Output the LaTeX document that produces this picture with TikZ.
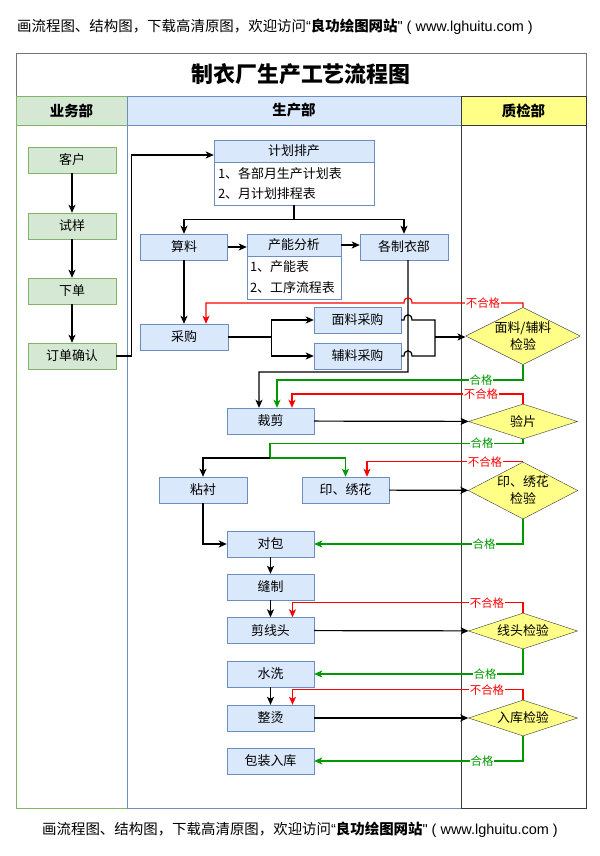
\documentclass[tikz,border=0pt]{standalone}
\usepackage{fontspec}
\setmainfont{Noto Sans CJK SC}
\newfontfamily\latinfont{Liberation Sans}
\usetikzlibrary{shapes.geometric,arrows.meta}

\definecolor{ywfill}{HTML}{D5E8D4}
\definecolor{ywline}{HTML}{82B366}
\definecolor{scfill}{HTML}{DAE8FC}
\definecolor{scline}{HTML}{6C8EBF}
\definecolor{zjfill}{HTML}{FFFF88}
\definecolor{zjline}{HTML}{36393D}
\definecolor{okgreen}{HTML}{009900}
\definecolor{ngred}{HTML}{FF0000}

\tikzset{
	ywbox/.style={draw=ywline, fill=ywfill, minimum width=88bp, minimum height=26bp, inner sep=0pt, font=\fontsize{13}{15}\selectfont},
	scbox/.style={draw=scline, fill=scfill, minimum width=87bp, minimum height=26bp, inner sep=0pt, font=\fontsize{13}{15}\selectfont},
	tbbody/.style={draw=scline, fill=white, inner xsep=4bp, inner ysep=0pt, minimum height=43bp, align=left, font=\fontsize{13}{21}\selectfont},
	zjdia/.style={diamond, draw=zjline, fill=zjfill, inner sep=0pt, aspect=3, minimum width=109bp, minimum height=36bp, align=center, font=\fontsize{13}{17}\selectfont},
	lanehead/.style={minimum height=29bp, inner sep=0pt, font=\bfseries\fontsize{14.5}{16}\selectfont},
	ar/.style={line width=1.2bp, -{Stealth[length=8bp,width=7bp,inset=2bp]}},
	okar/.style={ar, draw=okgreen},
	ngar/.style={ar, draw=ngred},
	oklab/.style={fill=white, inner sep=1bp, text=okgreen, font=\fontsize{11.5}{13}\selectfont},
	nglab/.style={fill=white, inner sep=1bp, text=ngred, font=\fontsize{11.5}{13}\selectfont},
}

\begin{document}
\begin{tikzpicture}[x=1bp, y=-1bp]
	\useasboundingbox (0,0) rectangle (600,856);

	\node[font=\fontsize{14.5}{17}\selectfont] (tophint) at (275,27) {画流程图、结构图，下载高清原图，欢迎访问{\latinfont “}\textbf{良功绘图网站}{\latinfont " ( www.lghuitu.com )}};
	\node[font=\fontsize{14.5}{17}\selectfont] (bothint) at (300,830) {画流程图、结构图，下载高清原图，欢迎访问{\latinfont “}\textbf{良功绘图网站}{\latinfont " ( www.lghuitu.com )}};

	% swimlanes
	\node[draw=black!55, minimum width=570bp, minimum height=43bp, inner sep=0pt, font=\bfseries\fontsize{22}{24}\selectfont] (title) at (301,74.5) {制衣厂生产工艺流程图};
	\draw[ywline] (16,125) rectangle (127,808);
	\draw[scline] (127,125) rectangle (461,808);
	\draw[zjline] (461,125) rectangle (586,808);
	\node[lanehead, draw=ywline, fill=ywfill, minimum width=111bp] (ywb) at (71.5,110.5) {业务部};
	\node[lanehead, draw=scline, fill=scfill, minimum width=334bp] (scb) at (294,110.5) {生产部};
	\node[lanehead, draw=zjline, fill=zjfill, minimum width=125bp] (zjb) at (523.5,110.5) {质检部};

	% 业务部
	\node[ywbox] (kh) at (72,160) {客户};
	\node[ywbox] (sy) at (72,226) {试样};
	\node[ywbox] (xd) at (72,291) {下单};
	\node[ywbox] (qr) at (72,356) {订单确认};

	% 生产部
	\node[scbox, minimum width=160bp, minimum height=22bp] (jh) at (294,151) {计划排产};
	\node[tbbody, text width=152bp] (jhb) at (294,183.5) {1、各部月生产计划表\\2、月计划排程表};
	\node[scbox] (sl) at (184,247) {算料};
	\node[scbox, minimum width=94bp, minimum height=22bp] (cn) at (294,245) {产能分析};
	\node[tbbody, text width=88bp, inner xsep=3bp] (cnb) at (294,277.5) {1、产能表\\2、工序流程表};
	\node[scbox, minimum width=88bp] (gzyb) at (404,247) {各制衣部};
	\node[scbox, minimum width=88bp] (cg) at (184,337) {采购};
	\node[scbox] (mf) at (357.5,320) {面料采购};
	\node[scbox] (fl) at (357.5,356) {辅料采购};
	\node[scbox] (cj) at (270.5,421) {裁剪};
	\node[scbox, minimum width=88bp] (zc) at (203,490) {粘衬};
	\node[scbox] (yx) at (345.5,490) {印、绣花};
	\node[scbox] (db) at (270.5,544) {对包};
	\node[scbox] (fzh) at (270.5,587) {缝制};
	\node[scbox] (jxt) at (270.5,630.5) {剪线头};
	\node[scbox] (sx) at (270.5,674) {水洗};
	\node[scbox] (zt) at (270.5,718) {整烫};
	\node[scbox] (bz) at (270.5,761) {包装入库};

	% 质检部
	\node[zjdia, aspect=2, minimum height=57bp] (mfjy) at (523,336) {面料/辅料\\检验};
	\node[zjdia, minimum height=35bp] (yp) at (523,421.5) {验片};
	\node[zjdia, aspect=2, minimum height=57bp] (yxjy) at (523,490.5) {印、绣花\\检验};
	\node[zjdia] (xtjy) at (523,631) {线头检验};
	\node[zjdia] (rkjy) at (523,718) {入库检验};

	% 流程
	\draw[ar] (kh) -- (sy);
	\draw[ar] (sy) -- (xd);
	\draw[ar] (xd) -- (qr);
	\draw[ar] (qr.east) -- ++(15,0) |- ([yshift=-4bp]jh.west);
	\draw[ar] (jhb.south) -- ++(0,14) -| (sl.north);
	\draw[ar] (jhb.south) -- ++(0,14) -| (gzyb.north);
	\draw[ar] (sl.east) -- (sl.east -| cn.west);
	\draw[ar] (cn.east) -- (cn.east -| gzyb.west);
	\draw[ar] (sl) -- (cg);
	\draw[ar] (cg.east) -- ++(43,0) |- (mf.west);
	\draw[ar] (cg.east) -- ++(43,0) |- (fl.west);
	\draw[line width=1.2bp] (mf.east) -- (404,320) .. controls (404,313) and (412,313) .. (412,320) -- (435,320)
		-- (435,356) -- (412,356) .. controls (412,349) and (404,349) .. (404,356) -- (fl.east);
	\coordinate (hb) at (435,337);
	\draw[ar] (hb) -- (hb -| mfjy.west);
	\draw[ar] ([xshift=4bp]gzyb.south) -- (408,372) -| ([xshift=-11.5bp]cj.north);
	\draw[ngar] (mfjy.north) -- (523,303) -- (412,303) .. controls (412,296) and (404,296) .. (404,303) -- (206,303) -- ([xshift=22bp]cg.north);
	\draw[okar] (mfjy.south) -- (523,380) -| ([xshift=6.5bp]cj.north);
	\draw[ar] (cj) -- (yp);
	\draw[ngar] (yp.north) -- (523,394) -| ([xshift=21.5bp]cj.north);
	\coordinate (fc) at (270,458);
	\draw[okar] (yp.south) -- ++(0,4) -| (fc) -| (yx.north);
	\draw[ar] (fc) -| (zc.north);
	\draw[ar] (yx) -- (yxjy);
	\draw[ngar] (yxjy.north) -| ([xshift=21.5bp]yx.north);
	\draw[okar] (yxjy.south) |- (db.east);
	\draw[ar] (zc.south) |- (db.west);
	\draw[ar] (db) -- (fzh);
	\draw[ar] (fzh) -- (jxt);
	\draw[ar] (jxt) -- (xtjy);
	\draw[ngar] (xtjy.north) -- ++(0,-10) -| ([xshift=22bp]jxt.north);
	\draw[okar] (xtjy.south) |- (sx.east);
	\draw[ar] (sx) -- (zt);
	\draw[ar] (zt) -- (rkjy);
	\draw[ngar] (rkjy.north) -- ++(0,-10) -| ([xshift=22bp]zt.north);
	\draw[okar] (rkjy.south) |- (bz.east);

	% 合格 / 不合格
	\node[nglab] (ng1) at (483,303) {不合格};
	\node[oklab] (ok1) at (481,380) {合格};
	\node[nglab] (ng2) at (481,394) {不合格};
	\node[oklab] (ok2) at (482,443) {合格};
	\node[nglab] (ng3) at (485,462) {不合格};
	\node[oklab] (ok3) at (484,544) {合格};
	\node[nglab] (ng4) at (487,603) {不合格};
	\node[oklab] (ok4) at (485,674) {合格};
	\node[nglab] (ng5) at (487,690) {不合格};
	\node[oklab] (ok5) at (482,761) {合格};
\end{tikzpicture}
\end{document}
